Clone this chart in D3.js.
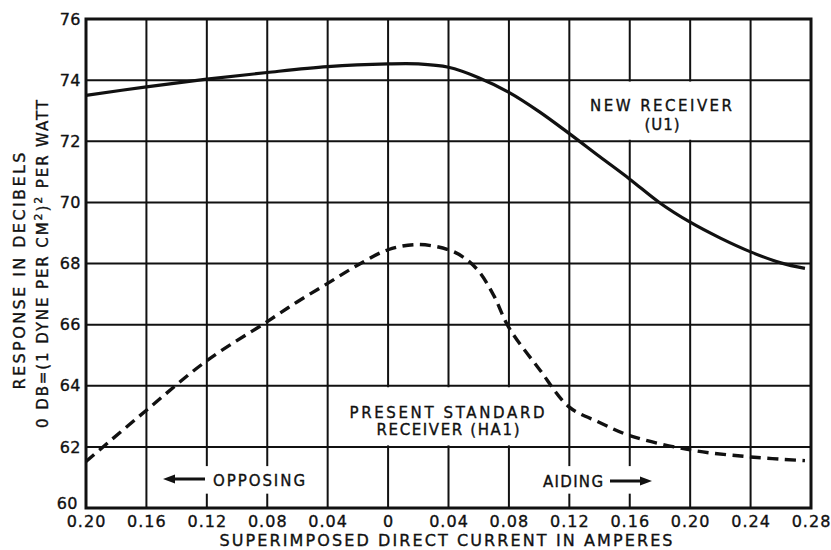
<!DOCTYPE html>
<html><head><meta charset="utf-8">
<script src="https://cdn.jsdelivr.net/npm/d3@7"></script>
<style>
body{margin:0;background:#fff;}
text{font-family:"DejaVu Sans",sans-serif;fill:#111;stroke:#111;stroke-width:0.35px;}
</style></head>
<body><svg id="c" width="831" height="550"></svg>
<script>
// ---- data ----
const xTicks = [-0.20,-0.16,-0.12,-0.08,-0.04,0,0.04,0.08,0.12,0.16,0.20,0.24,0.28];
const xTickLabels = ["0.20","0.16","0.12","0.08","0.04","0","0.04","0.08","0.12","0.16","0.20","0.24","0.28"];
const yTicks = [60,62,64,66,68,70,72,74,76];
const yTickLabels = ["60","62","64","66","68","70","72","74","76"];

const u1X = [-0.20,-0.16,-0.12,-0.08,-0.04,0,0.02,0.04,0.06,0.08,0.10,0.12,0.14,0.16,0.18,0.20,0.22,0.24,0.26,0.276];
const u1Y = [73.5,73.78,74.03,74.25,74.44,74.53,74.53,74.42,74.08,73.6,72.97,72.25,71.5,70.76,69.98,69.35,68.83,68.38,68.02,67.84];

const haX = [-0.20,-0.16,-0.12,-0.08,-0.06,-0.04,-0.02,0,0.02,0.04,0.05,0.06,0.07,0.08,0.10,0.12,0.14,0.16,0.20,0.24,0.276];
const haY = [61.52,63.2,64.82,66.1,66.75,67.35,67.95,68.45,68.62,68.45,68.2,67.75,66.95,65.9,64.55,63.3,62.8,62.37,61.9,61.67,61.55];

const xTitle = "SUPERIMPOSED DIRECT CURRENT IN AMPERES";
const yTitle1 = "RESPONSE IN DECIBELS";

// ---- layout ----
const svg = d3.select("#c");
const L=86, R=811, T=19, B=508;
const x = d3.scaleLinear().domain([-0.20,0.28]).range([L,R]);
const y = d3.scaleLinear().domain([60,76]).range([B,T]);

// grid
const g = svg.append("g");
g.selectAll("line.v").data(xTicks).join("line")
  .attr("x1",d=>x(d)).attr("x2",d=>x(d)).attr("y1",T).attr("y2",B)
  .attr("stroke","#111").attr("stroke-width",2);
g.selectAll("line.h").data(yTicks).join("line")
  .attr("y1",d=>y(d)).attr("y2",d=>y(d)).attr("x1",L).attr("x2",R)
  .attr("stroke","#111").attr("stroke-width",2);

// white boxes behind annotations
function box(x0,x1,y0,y1){
  svg.append("rect").attr("x",x(x0)+1.5).attr("width",x(x1)-x(x0)-3)
    .attr("y",y(y1)+1.5).attr("height",y(y0)-y(y1)-3).attr("fill","#fff");
}
box(0.12,0.24,72,74);
box(-0.04,0.12,62,64);
box(-0.15,-0.045,60.42,61.42);
box(0.10,0.185,60.42,61.42);

// frame
svg.append("rect").attr("x",L).attr("y",T).attr("width",R-L).attr("height",B-T)
  .attr("fill","none").attr("stroke","#111").attr("stroke-width",3);

// axes
const xAxis = d3.axisBottom(x).tickValues(xTicks).tickSize(0).tickPadding(8)
  .tickFormat((d,i)=>xTickLabels[i]);
const ax = svg.append("g").attr("transform",`translate(0,${B})`).call(xAxis);
ax.select(".domain").remove();
ax.selectAll("text").style("font-family","DejaVu Sans").style("font-size","16px")
  .style("letter-spacing","1px").attr("fill","#111");

const yAxis = d3.axisLeft(y).tickValues(yTicks).tickSize(0).tickPadding(5)
  .tickFormat((d,i)=>yTickLabels[i]);
const ay = svg.append("g").attr("transform",`translate(${L},0)`).call(yAxis);
ay.select(".domain").remove();
ay.selectAll("text").style("font-family","DejaVu Sans").style("font-size","16px")
  .style("letter-spacing","0.5px").attr("fill","#111");
ay.selectAll(".tick").filter(d=>d===60).select("text").attr("y",-5).attr("x",-8);

// curves
const line = d3.line().x(d=>x(d[0])).y(d=>y(d[1])).curve(d3.curveCatmullRom.alpha(0.5));
svg.append("path").datum(u1X.map((v,i)=>[v,u1Y[i]])).attr("d",line)
  .attr("fill","none").attr("stroke","#111").attr("stroke-width",3.2);
svg.append("path").datum(haX.map((v,i)=>[v,haY[i]])).attr("d",line)
  .attr("fill","none").attr("stroke","#111").attr("stroke-width",3.4)
  .attr("stroke-dasharray","11,6.5");

// annotation text
function txt(s,cx,by,len,size){
  return svg.append("text").attr("x",cx).attr("y",by).attr("text-anchor","middle")
    .attr("font-size",size).attr("textLength",len).attr("lengthAdjust","spacing").text(s);
}
txt("NEW RECEIVER",661,111,142,15);
txt("(U1)",662,130,35,15);
txt("PRESENT STANDARD",447,418,195,15);
txt("RECEIVER (HA1)",448,435,143,15);

// opposing / aiding
svg.append("text").attr("x",213).attr("y",486).attr("font-size",15)
  .attr("textLength",92).attr("lengthAdjust","spacing").text("OPPOSING");
svg.append("text").attr("x",543).attr("y",487).attr("font-size",15)
  .attr("textLength",60).attr("lengthAdjust","spacing").text("AIDING");
function arrow(x0,x1,yy){
  const dir = Math.sign(x1-x0);
  svg.append("line").attr("x1",x0).attr("x2",x1-dir*9).attr("y1",yy).attr("y2",yy)
    .attr("stroke","#111").attr("stroke-width",3);
  svg.append("path").attr("d",`M${x1},${yy} L${x1-dir*12},${yy-4.5} L${x1-dir*12},${yy+4.5} Z`).attr("fill","#111");
}
arrow(205,163,479);
arrow(610,652,481);

// axis titles
svg.append("text").attr("x",446).attr("y",546).attr("text-anchor","middle")
  .attr("font-size",16).attr("textLength",453).attr("lengthAdjust","spacing").text(xTitle);

svg.append("text").attr("transform","translate(25,271) rotate(-90)").attr("text-anchor","middle")
  .attr("font-size",16).attr("textLength",237).attr("lengthAdjust","spacing").text(yTitle1);
const t2 = svg.append("text").attr("transform","translate(48,263) rotate(-90)").attr("text-anchor","middle")
  .attr("font-size",15).attr("letter-spacing","1.9px");
t2.append("tspan").text("0 DB=(1 DYNE PER CM");
t2.append("tspan").attr("font-size",11).attr("dy",-6).text("2");
t2.append("tspan").attr("dy",6).text(")");
t2.append("tspan").attr("font-size",11).attr("dy",-6).text("2");
t2.append("tspan").attr("dy",6).text(" PER WATT");
</script></body></html>
